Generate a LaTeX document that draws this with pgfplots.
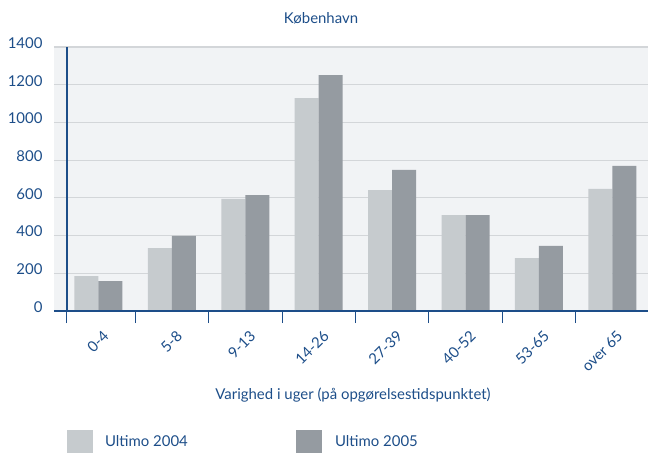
\documentclass[border=0pt]{standalone}
\usepackage{pgfplots}
\pgfplotsset{compat=1.18}
\usepackage{fontspec}
\setmainfont{Lato}
\definecolor{txtblue}{HTML}{1D4E89}
\definecolor{axblue}{HTML}{1D4E89}
\definecolor{barlight}{HTML}{C6CBCE}
\definecolor{bardark}{HTML}{959BA1}
\definecolor{bggrey}{HTML}{F1F3F5}
\definecolor{gridgrey}{HTML}{D3D6D9}
\newcommand{\lbl}{\fontsize{15}{17}\selectfont}
\begin{document}
\begin{tikzpicture}
\begin{axis}[
  name=ax,
  width=594bp, height=264bp, scale only axis,
  xmin=-0.606, xmax=7.486,
  ymin=0, ymax=1400,
  ybar=0pt, bar width=24bp,
  axis line style={draw=none},
  axis background/.style={fill=bggrey},
  ymajorgrids, grid style={draw=gridgrey, line width=1.2bp},
  ytick={0,200,...,1400},
  ytick style={draw=none},
  /pgf/number format/assume math mode=true,
  /pgf/number format/1000 sep={},
  yticklabel style={font=\lbl, text=txtblue, xshift=-8bp, yshift=4bp},
  xtick={0,...,7},
  xticklabels={0-4,5-8,9-13,14-26,27-39,40-52,53-65,over 65},
  xtick pos=bottom,
  tick align=outside,
  major tick length=0pt,
  xticklabel style={font=\lbl, text=txtblue, xshift=10bp, yshift=-20bp, rotate=45, anchor=east},
  extra x ticks={-0.429,0.5,1.5,2.5,3.5,4.5,5.5,6.5},
  extra x tick labels={},
  extra x tick style={major tick length=12bp, tick style={draw=axblue, line width=1bp}},
  legend columns=2,
  legend style={draw=none, fill=none, at={(0.0219,-0.496)}, anchor=west, inner sep=0pt, outer sep=0pt,
     nodes={inner sep=0pt}, font=\lbl, text=txtblue},
  legend cell align=left,
  legend image code/.code={\fill[#1,draw=none] (0bp,-11.5bp) rectangle (26bp,11.5bp);},
]
\addplot[fill=barlight, draw=none] coordinates {(0,185) (1,334) (2,594) (3,1129) (4,641) (5,509) (6,281) (7,647)};
\addplot[fill=bardark, draw=none] coordinates {(0,159) (1,398) (2,615) (3,1251) (4,748) (5,509) (6,345) (7,769)};
\legend{\makebox[203bp][l]{\hspace*{12bp}Ultimo 2004},\hspace*{13bp}Ultimo 2005}
\draw[axblue, line width=1.3bp] (rel axis cs:0,0) -- (rel axis cs:1,0);
\draw[axblue, line width=1.2bp] (axis cs:-0.429,0) -- (axis cs:-0.429,1400);
\coordinate (bl) at (rel axis cs:0,0);
\end{axis}
\pgfresetboundingbox
\useasboundingbox ([shift={(-54bp,-143bp)}]bl) rectangle ([shift={(594bp,311bp)}]bl);
\node[text=txtblue, font=\lbl] at ([shift={(267bp,293bp)}]bl) {København};
\node[text=txtblue, font=\lbl] at ([shift={(299bp,-84bp)}]bl) {Varighed i uger (på opgørelsestidspunktet)};
\end{tikzpicture}
\end{document}
